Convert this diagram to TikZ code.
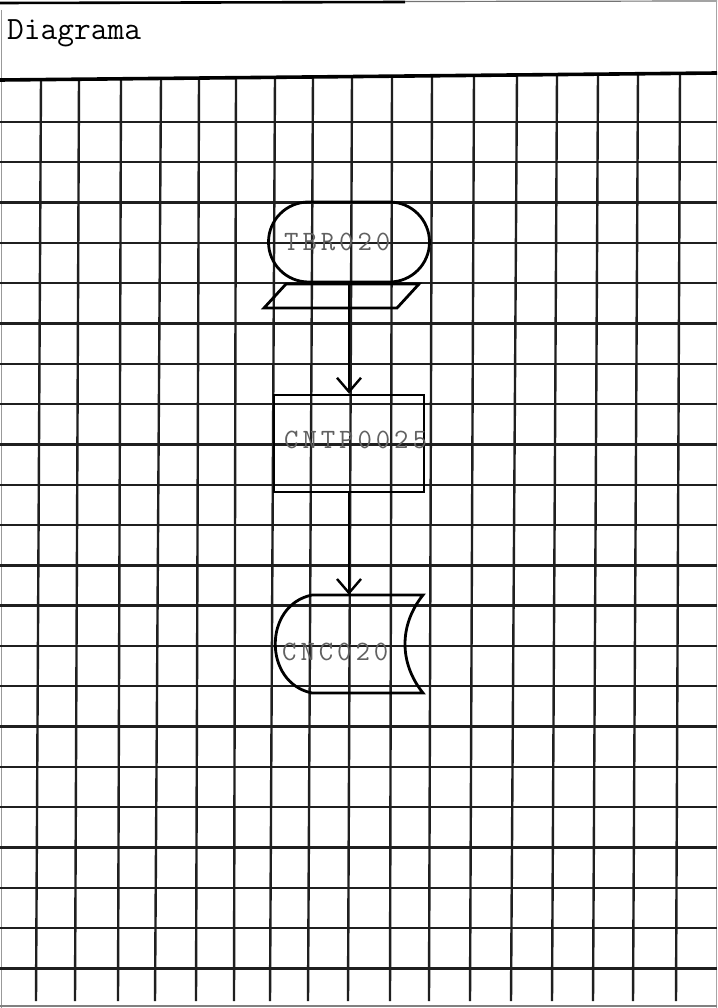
\documentclass[tikz,border=0pt]{standalone}
\usepackage{fontspec}
\newfontfamily\flowfont[LetterSpace=14.0]{Latin Modern Mono}
\usetikzlibrary{arrows.meta,shapes.misc}
\begin{document}
\begin{tikzpicture}[x=1pt,y=-1pt,
  gridline/.style={line width=2.4pt, black!88},
  shapeline/.style={line width=2.8pt, black},
  flowtext/.style={inner sep=0pt, text=black!62, font=\fontsize{28}{30}\selectfont\flowfont},
  flow/.style={line width=2.4pt, -{Straight Barb[length=14pt,width=24pt,line width=2.4pt]}}]
\useasboundingbox (0,0) rectangle (717,1008);
\fill[white] (0,0) rectangle (717,1008);
% header
\draw[line width=2.6pt] (0,3) -- (405,2);
\draw[line width=1.2pt, black!55] (405,1.5) -- (717,1);
\draw[line width=1pt, black!40] (1,10) -- (1,1008);
\draw[line width=1pt, black!35] (716,0) -- (716,1008);
\node[anchor=base west, inner sep=0pt, font=\fontsize{32.5}{34}\selectfont\ttfamily] (title) at (7,40) {Diagrama};
% grid
\foreach \k in {0,...,21}
  \draw[gridline] (0,{122+40.3*\k}) -- (717,{122+40.3*\k});
\foreach \xt/\xb in {41/36, 79/75, 121/118, 161/155, 199/196, 236/234, 275/270, 313/308, 352/348, 392/390, 432/429, 474/470, 517/511, 557/552, 598/593, 638/633, 680/676}
  \draw[gridline] (\xt,{80-7*\xt/717}) -- (\xb,1001);
\draw[line width=3.6pt] (0,80) -- (717,73);
\draw[line width=1.2pt, black!50] (0,1006) -- (717,1006);
% shapes
\node[rounded rectangle, draw, shapeline, minimum width=161pt, minimum height=80pt, inner sep=0pt] (tbr) at (349,242) {};
\node[flowtext, anchor=west] (tbrtext) at (284,242) {TBR020};
\draw[shapeline] (286,284) -- (419,284) -- (397,308) -- (264,308) -- cycle;
\node[draw, shapeline, minimum width=150pt, minimum height=97pt, inner sep=0pt] (cntp) at (349,443.5) {};
\node[flowtext, anchor=west] (cntptext) at (284,440) {CNTP0025};
\node[minimum width=148pt, minimum height=98pt, inner sep=0pt] (cnc) at (349,644) {};
\draw[shapeline] (312,595) -- (423,595) .. controls (399,625) and (399,663) .. (423,693) -- (312,693) .. controls (263,683) and (263,605) .. (312,595) -- cycle;
\node[flowtext, anchor=west] (cnctext) at (282,652) {CNC020};
% connectors
\draw[flow] (tbr.south) -- (cntp.north);
\draw[flow] (cntp.south) -- (cnc.north);
\end{tikzpicture}
\end{document}
